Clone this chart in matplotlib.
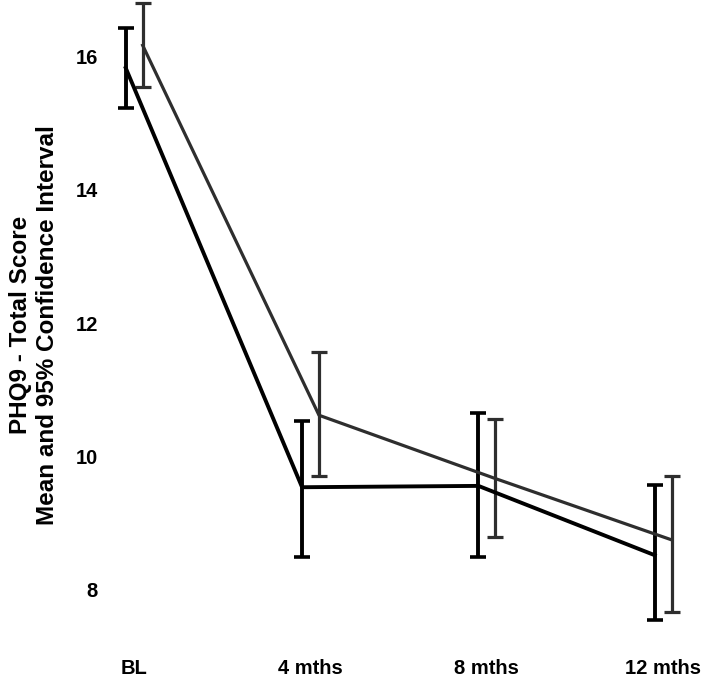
import matplotlib.pyplot as plt
import numpy as np

# data
timepoints = ['BL', '4 mths', '8 mths', '12 mths']

black_mean = [15.83, 9.54, 9.56, 8.52]
black_lo = [15.23, 8.49, 8.49, 7.55]
black_hi = [16.43, 10.53, 10.66, 9.57]

grey_mean = [16.17, 10.62, 9.67, 8.75]
grey_lo = [15.54, 9.71, 8.79, 7.67]
grey_hi = [16.80, 11.57, 10.57, 9.71]


def make_chart():
    plt.rcParams['font.family'] = ['Liberation Sans', 'DejaVu Sans']

    fig = plt.figure(figsize=(7.02, 6.78), dpi=100)
    ax = fig.add_axes([0.157, 0.071, 0.838, 0.929])

    x = np.arange(len(timepoints))
    off = 0.048

    bm = np.array(black_mean)
    gm = np.array(grey_mean)
    ax.errorbar(x - off, bm, yerr=[bm - np.array(black_lo), np.array(black_hi) - bm],
                color='black', lw=2.8, elinewidth=2.8, capsize=6, capthick=2.6)
    ax.errorbar(x + off, gm, yerr=[gm - np.array(grey_lo), np.array(grey_hi) - gm],
                color='#2e2e2e', lw=2.3, elinewidth=2.3, capsize=6, capthick=2.3)

    ax.set_xlim(-0.136, 3.2)
    ax.set_ylim(7.4, 16.85)
    ax.set_xticks(x)
    ax.set_xticklabels(timepoints, fontsize=14.5, fontweight='bold')
    ax.set_yticks([8, 10, 12, 14, 16])
    ax.set_yticklabels(['8', '10', '12', '14', '16'], fontsize=14.5, fontweight='bold')
    ax.tick_params(axis='x', length=0, pad=21)
    ax.tick_params(axis='y', length=0, pad=9)

    for s in ax.spines.values():
        s.set_visible(False)

    fig.text(34 / 702, 1 - 325 / 678,
             'PHQ9 - Total Score\nMean and 95% Confidence Interval',
             rotation=90, ha='center', va='center', multialignment='center',
             fontsize=17.5, fontweight='bold')

    fig.savefig('out.png', dpi=100)
    plt.close(fig)


if __name__ == '__main__':
    make_chart()
